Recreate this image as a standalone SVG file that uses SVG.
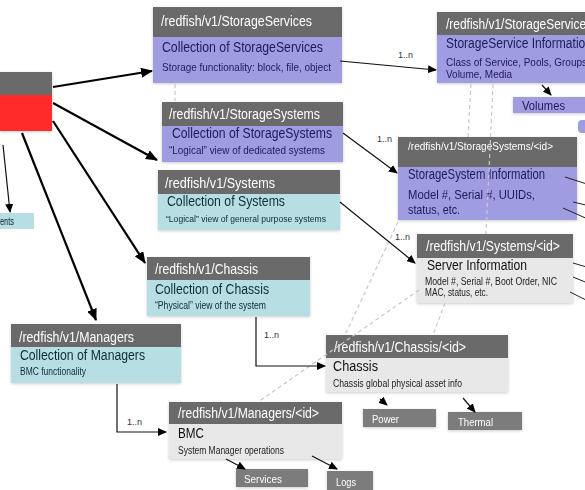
<svg xmlns="http://www.w3.org/2000/svg" width="585" height="490" viewBox="0 0 585 490">
<defs>
<style>
text{font-family:"Liberation Sans",Arial,Helvetica,sans-serif}
.hd{fill:#6a6a6a}
.pu{fill:#a09ce2}
.cy{fill:#b6dee3}
.lg{fill:#e8e8e8}
.sm{fill:#7b7b7b}
.ht{fill:#fff;font-size:14px}
.tp{fill:#1d1b58;font-size:14px}
.tc{fill:#102c36;font-size:14px}
.tg{fill:#111;font-size:14px}
.dp{fill:#1d1b58;font-size:10.5px}
.dc{fill:#102c36;font-size:10px}
.dg{fill:#222;font-size:10px}
.st{fill:#fff;font-size:11px}
.lb{fill:#333;font-size:9px}
.thick{stroke:#000;stroke-width:2.2;fill:none}
.thin{stroke:#111;stroke-width:1.2;fill:none}
.edge{stroke:#222;stroke-width:1;fill:none}
.dash{stroke:#c8c8c8;stroke-width:1.2;stroke-dasharray:4 3;fill:none}
</style>
<marker id="ah" markerUnits="userSpaceOnUse" markerWidth="12" markerHeight="10" refX="11" refY="5" orient="auto"><path d="M0,0 L12,5 L0,10 z" fill="#000"/></marker>
<marker id="as" markerUnits="userSpaceOnUse" markerWidth="9" markerHeight="8" refX="8" refY="4" orient="auto"><path d="M0,0 L9,4 L0,8 z" fill="#000"/></marker>
<filter id="sh" x="-10%" y="-10%" width="120%" height="130%"><feDropShadow dx="0" dy="1" stdDeviation="1.5" flood-opacity="0.2"/></filter>
</defs>
<rect width="585" height="490" fill="#fff"/>

<g id="root" filter="url(#sh)">
<rect class="hd" x="0" y="72" width="52" height="23"/>
<rect x="0" y="95" width="52" height="36" fill="#ff2b2b"/>
</g>

<g id="ents">
<rect class="cy" x="-5" y="213" width="39" height="16"/>
<text class="dc" x="0" y="225" textLength="14" lengthAdjust="spacingAndGlyphs">ents</text>
</g>

<g id="storageservices" filter="url(#sh)">
<rect class="hd" x="153" y="7" width="189" height="30"/>
<rect class="pu" x="153" y="37" width="189" height="46"/>
<text class="ht" x="161" y="26" textLength="151" lengthAdjust="spacingAndGlyphs">/redfish/v1/StorageServices</text>
<text class="tp" x="162" y="52" textLength="161" lengthAdjust="spacingAndGlyphs">Collection of StorageServices</text>
<text class="dp" x="162" y="71" textLength="169" lengthAdjust="spacingAndGlyphs">Storage functionality: block, file, object</text>
</g>

<g id="storagesystems" filter="url(#sh)">
<rect class="hd" x="162" y="102" width="181" height="24"/>
<rect class="pu" x="162" y="126" width="181" height="36"/>
<text class="ht" x="169" y="119" textLength="151" lengthAdjust="spacingAndGlyphs">/redfish/v1/StorageSystems</text>
<text class="tp" x="172" y="138" textLength="160" lengthAdjust="spacingAndGlyphs">Collection of StorageSystems</text>
<text class="dp" x="169" y="154" style="font-size:10px" textLength="156" lengthAdjust="spacingAndGlyphs">“Logical” view of dedicated systems</text>
</g>

<g id="systems" filter="url(#sh)">
<rect class="hd" x="158" y="170" width="182" height="24"/>
<rect class="cy" x="158" y="194" width="182" height="36"/>
<text class="ht" x="165" y="188" textLength="110" lengthAdjust="spacingAndGlyphs">/redfish/v1/Systems</text>
<text class="tc" x="167" y="206" textLength="118" lengthAdjust="spacingAndGlyphs">Collection of Systems</text>
<text class="dc" x="166" y="222" style="font-size:9.5px" textLength="160" lengthAdjust="spacingAndGlyphs">“Logical” view of general purpose systems</text>
</g>

<g id="chassis" filter="url(#sh)">
<rect class="hd" x="147" y="257" width="163" height="23"/>
<rect class="cy" x="147" y="280" width="163" height="36"/>
<text class="ht" x="155" y="274" textLength="103" lengthAdjust="spacingAndGlyphs">/redfish/v1/Chassis</text>
<text class="tc" x="155" y="294" textLength="114" lengthAdjust="spacingAndGlyphs">Collection of Chassis</text>
<text class="dc" x="155" y="309" textLength="111" lengthAdjust="spacingAndGlyphs">“Physical” view of the system</text>
</g>

<g id="managers" filter="url(#sh)">
<rect class="hd" x="11" y="324" width="170" height="23"/>
<rect class="cy" x="11" y="347" width="170" height="36"/>
<text class="ht" x="19" y="342" textLength="115" lengthAdjust="spacingAndGlyphs">/redfish/v1/Managers</text>
<text class="tc" x="20" y="360" textLength="125" lengthAdjust="spacingAndGlyphs">Collection of Managers</text>
<text class="dc" x="20" y="375" textLength="66" lengthAdjust="spacingAndGlyphs">BMC functionality</text>
</g>

<g id="manager-id" filter="url(#sh)">
<rect class="hd" x="169" y="402" width="173" height="22"/>
<rect class="lg" x="169" y="424" width="173" height="35"/>
<text class="ht" x="178" y="418" textLength="141" lengthAdjust="spacingAndGlyphs">/redfish/v1/Managers/&lt;id&gt;</text>
<text class="tg" x="178" y="438" textLength="26" lengthAdjust="spacingAndGlyphs">BMC</text>
<text class="dg" x="178" y="454" textLength="106" lengthAdjust="spacingAndGlyphs">System Manager operations</text>
</g>

<g id="services" filter="url(#sh)">
<rect class="sm" x="236" y="469" width="72" height="18"/>
<text class="st" x="244" y="483" textLength="38" lengthAdjust="spacingAndGlyphs">Services</text>
</g>

<g id="logs" filter="url(#sh)">
<rect class="sm" x="327" y="471" width="46" height="19"/>
<text class="st" x="336" y="486" textLength="20" lengthAdjust="spacingAndGlyphs">Logs</text>
</g>

<g id="chassis-id" filter="url(#sh)">
<rect class="hd" x="326" y="335" width="182" height="23"/>
<rect class="lg" x="326" y="358" width="182" height="34"/>
<text class="ht" x="334" y="352" textLength="132" lengthAdjust="spacingAndGlyphs">/redfish/v1/Chassis/&lt;id&gt;</text>
<text class="tg" x="333" y="371" textLength="45" lengthAdjust="spacingAndGlyphs">Chassis</text>
<text class="dg" x="333" y="387" textLength="129" lengthAdjust="spacingAndGlyphs">Chassis global physical asset info</text>
</g>

<g id="power" filter="url(#sh)">
<rect class="sm" x="363" y="409" width="73" height="18"/>
<text class="st" x="372" y="423" textLength="27" lengthAdjust="spacingAndGlyphs">Power</text>
</g>

<g id="thermal" filter="url(#sh)">
<rect class="sm" x="448" y="412" width="74" height="18"/>
<text class="st" x="458" y="426" textLength="35" lengthAdjust="spacingAndGlyphs">Thermal</text>
</g>

<g id="system-id" filter="url(#sh)">
<rect class="hd" x="417" y="234" width="156" height="24"/>
<rect class="lg" x="417" y="258" width="156" height="45"/>
<text class="ht" x="426" y="251" textLength="134" lengthAdjust="spacingAndGlyphs">/redfish/v1/Systems/&lt;id&gt;</text>
<text class="tg" x="427" y="270" textLength="100" lengthAdjust="spacingAndGlyphs">Server Information</text>
<text class="dg" x="425" y="285" textLength="132" lengthAdjust="spacingAndGlyphs">Model #, Serial #, Boot Order, NIC</text>
<text class="dg" x="425" y="296" textLength="63" lengthAdjust="spacingAndGlyphs">MAC, status, etc.</text>
</g>

<g id="storagesystem-id" filter="url(#sh)">
<rect class="hd" x="398" y="137" width="179" height="30"/>
<rect class="pu" x="398" y="167" width="179" height="53"/>
<text class="ht" x="408" y="150" style="font-size:11.5px" textLength="145" lengthAdjust="spacingAndGlyphs">/redfish/v1/StorageSystems/&lt;id&gt;</text>
<text class="tp" x="408" y="179" textLength="137" lengthAdjust="spacingAndGlyphs">StorageSystem Information</text>
<text class="tp" x="408" y="199" style="font-size:13px" textLength="127" lengthAdjust="spacingAndGlyphs">Model #, Serial #,  UUIDs,</text>
<text class="tp" x="408" y="214" style="font-size:13px" textLength="52" lengthAdjust="spacingAndGlyphs">status, etc.</text>
</g>

<g id="storageservice-id" filter="url(#sh)">
<rect class="hd" x="437" y="12" width="160" height="23"/>
<rect class="pu" x="437" y="35" width="160" height="48"/>
<text class="ht" x="446" y="29" textLength="146" lengthAdjust="spacingAndGlyphs">/redfish/v1/StorageServices</text>
<text class="tp" x="446" y="48" textLength="146" lengthAdjust="spacingAndGlyphs">StorageService Information</text>
<text class="dp" x="446" y="66" style="font-size:11px" textLength="141" lengthAdjust="spacingAndGlyphs">Class of Service, Pools, Groups</text>
<text class="dp" x="446" y="78" style="font-size:11px" textLength="66" lengthAdjust="spacingAndGlyphs">Volume, Media</text>
</g>

<g id="volumes" filter="url(#sh)">
<rect class="pu" x="513" y="97" width="80" height="16"/>
<text class="tp" x="522" y="110" style="font-size:12px" textLength="43" lengthAdjust="spacingAndGlyphs">Volumes</text>
</g>

<g id="partial">
<rect class="pu" x="578" y="120" width="20" height="13" rx="4"/>
</g>

<g id="connectors">
<path class="dash" d="M175,84 V101"/>
<path class="dash" d="M471,84 L468,137"/>
<path class="dash" d="M493,84 L486,234"/>
<path class="dash" d="M398,222 L345,335"/>
<path class="dash" d="M419,290 L258,402"/>
<path class="dash" d="M445,303 L433,335"/>

<path class="thick" d="M53,87 L152,71" marker-end="url(#ah)"/>
<path class="thick" d="M53,103 L157,160" marker-end="url(#ah)"/>
<path class="thick" d="M53,121 L145,263" marker-end="url(#ah)"/>
<path class="thick" d="M22,133 L96,320" marker-end="url(#ah)"/>

<path class="thin" d="M3,145 L10,212" marker-end="url(#as)"/>
<path class="thin" d="M340,61 L436,70" marker-end="url(#as)"/>
<path class="thin" d="M343,133 L397,173" marker-end="url(#as)"/>
<path class="thin" d="M340,202 L415,263" marker-end="url(#as)"/>
<path class="thin" d="M256,317 V366 H325" marker-end="url(#as)"/>
<path class="thin" d="M117,384 V432 H166" marker-end="url(#as)"/>
<path class="thin" d="M542,85 L551,95" marker-end="url(#as)"/>
<path class="thin" d="M380,399 L387,405" marker-end="url(#as)"/>
<path class="thin" d="M463,398 L475,412" marker-end="url(#as)"/>
<path class="thin" d="M226,459 L245,469" marker-end="url(#as)"/>
<path class="thin" d="M312,456 L337,469" marker-end="url(#as)"/>

<path class="edge" d="M565,177 L590,185"/>
<path class="edge" d="M573,202 L590,206"/>
<path class="edge" d="M563,208 L590,220"/>
<path class="edge" d="M573,263 L590,268"/>
<path class="edge" d="M573,277 L590,284"/>
<path class="edge" d="M570,292 L590,302"/>

<text class="lb" x="398" y="58">1..n</text>
<text class="lb" x="377" y="142">1..n</text>
<text class="lb" x="395" y="240">1..n</text>
<text class="lb" x="264" y="338">1..n</text>
<text class="lb" x="127" y="425">1..n</text>
</g>
</svg>
